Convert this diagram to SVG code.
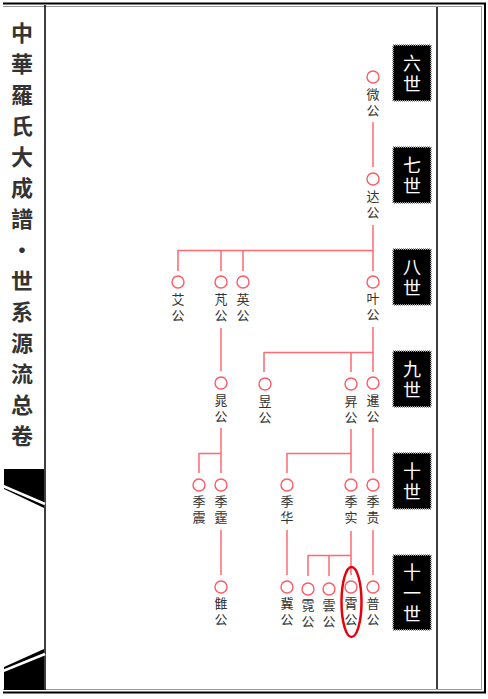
<svg xmlns="http://www.w3.org/2000/svg" width="488" height="699" viewBox="0 0 488 699">
<style>
text{writing-mode:vertical-rl;text-orientation:upright;text-anchor:start;font-family:"Noto Sans CJK SC","Noto Sans CJK TC",sans-serif}
.t{font-size:13px;fill:#333;letter-spacing:3px}
.title{font-size:22px;font-weight:bold;fill:#333;letter-spacing:9px}
.gen rect{fill:#000;stroke:#999;stroke-width:2;stroke-dasharray:1 1}
.gen text{font-size:18px;fill:#fff;letter-spacing:3px}
.c{fill:#fff;stroke:#ff5a64;stroke-width:1.4}
#connectors path{fill:none;stroke:#ff6a72;stroke-width:1.5}
</style>
<rect width="488" height="699" fill="#fff"/>
<g id="frame" fill="none">
<path d="M3 3.5H485V692.5H3" stroke="#000" stroke-width="2"/>
<path d="M3 6.5H481.5V689.5H3" stroke="#999" stroke-width="1"/>
<path d="M45 5V690M437 7V689" stroke="#000" stroke-width="1.5"/>
</g>
<g id="title">
<text class="title" x="22" y="22">中華羅氏大成譜•世系源流总卷</text>
</g>
<g id="wedges">
<polygon points="4,469 44,469 44,508 4,489" fill="#000"/>
<line x1="3" y1="486" x2="45" y2="504" stroke="#fff" stroke-width="2.5"/>
<polygon points="4,667 44,649 44,690 4,690" fill="#000"/>
<line x1="3" y1="671" x2="45" y2="654" stroke="#fff" stroke-width="2.5"/>
</g>
<g id="generations" class="gen">
<g id="gen6"><rect x="393" y="45" width="38" height="56"/><text x="412" y="54">六世</text></g>
<g id="gen7"><rect x="393" y="147" width="38" height="56"/><text x="412" y="156">七世</text></g>
<g id="gen8"><rect x="393" y="249" width="38" height="56"/><text x="412" y="258">八世</text></g>
<g id="gen9"><rect x="393" y="351" width="38" height="56"/><text x="412" y="360">九世</text></g>
<g id="gen10"><rect x="393" y="453" width="38" height="56"/><text x="412" y="462">十世</text></g>
<g id="gen11"><rect x="393" y="555" width="38" height="75"/><text x="412" y="563">十一世</text></g>
</g>
<g id="connectors">
<path d="M373 122V167"/>
<path d="M373 225V271M178 250.5H373M178 250V271M221 250V271M243 250V271"/>
<path d="M221 328V371"/>
<path d="M373 327V372M264 352.5H373M264 352V372M351 352V372"/>
<path d="M221 428V473M199 453.5H221M199 453V473"/>
<path d="M351 429V473M287 453.5H351M287 453V473"/>
<path d="M373 428V473"/>
<path d="M221 530V575"/>
<path d="M287 530V575"/>
<path d="M351 531V575M308 555.5H351M308 555V576M329 555V576"/>
<path d="M373 530V575"/>
</g>
<g id="n-wei"><circle class="c" cx="373" cy="77" r="6"/><text class="t" x="373" y="87.5">微公</text></g>
<g id="n-da"><circle class="c" cx="373" cy="179" r="6"/><text class="t" x="373" y="189.5">达公</text></g>
<g id="n-ai"><circle class="c" cx="178" cy="282" r="6"/><text class="t" x="178" y="292.5">艾公</text></g>
<g id="n-peng"><circle class="c" cx="221" cy="282" r="6"/><text class="t" x="221" y="292.5">芃公</text></g>
<g id="n-ying"><circle class="c" cx="243" cy="282" r="6"/><text class="t" x="243" y="292.5">英公</text></g>
<g id="n-ye"><circle class="c" cx="373" cy="282" r="6"/><text class="t" x="373" y="291.5">叶公</text></g>
<g id="n-chao"><circle class="c" cx="221" cy="383" r="6"/><text class="t" x="221" y="393.5">晁公</text></g>
<g id="n-yu"><circle class="c" cx="265" cy="384" r="6"/><text class="t" x="265" y="394.5">昱公</text></g>
<g id="n-sheng"><circle class="c" cx="351" cy="384" r="6"/><text class="t" x="351" y="394.5">昇公</text></g>
<g id="n-xian"><circle class="c" cx="373" cy="383" r="6"/><text class="t" x="373" y="393.5">暹公</text></g>
<g id="n-jizhen"><circle class="c" cx="199" cy="485" r="6"/><text class="t" x="199" y="494.5">季震</text></g>
<g id="n-jiting"><circle class="c" cx="221" cy="485" r="6"/><text class="t" x="221" y="494.5">季霆</text></g>
<g id="n-jihua"><circle class="c" cx="287" cy="485" r="6"/><text class="t" x="287" y="494.5">季华</text></g>
<g id="n-jishi"><circle class="c" cx="351" cy="485" r="6"/><text class="t" x="351" y="494.5">季实</text></g>
<g id="n-jigui"><circle class="c" cx="373" cy="485" r="6"/><text class="t" x="373" y="494.5">季贵</text></g>
<g id="n-chou"><circle class="c" cx="221" cy="587" r="6"/><text class="t" x="221" y="596.5">雔公</text></g>
<g id="n-ji"><circle class="c" cx="287" cy="587" r="6"/><text class="t" x="287" y="596.5">冀公</text></g>
<g id="n-ni"><circle class="c" cx="308" cy="589" r="6"/><text class="t" x="308" y="598.5">霓公</text></g>
<g id="n-yun"><circle class="c" cx="329" cy="589" r="6"/><text class="t" x="329" y="598.5">雲公</text></g>
<g id="n-xiao"><circle class="c" cx="351" cy="587" r="6"/><text class="t" x="351" y="596.5">霄公</text>
<ellipse cx="351.5" cy="602" rx="10" ry="35" fill="none" stroke="#e8000b" stroke-width="2.5"/></g>
<g id="n-pu"><circle class="c" cx="373" cy="587" r="6"/><text class="t" x="373" y="596.5">普公</text></g>
</svg>
